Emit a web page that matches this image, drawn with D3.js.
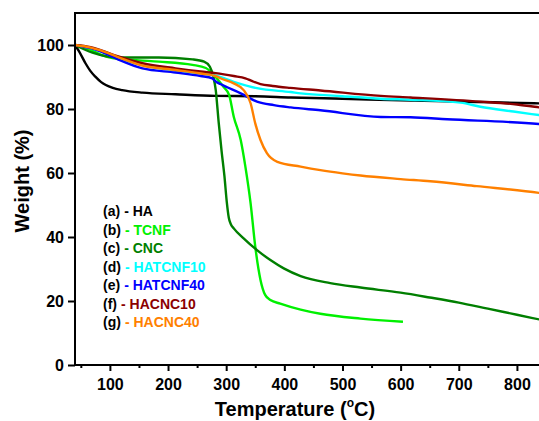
<!DOCTYPE html>
<html>
<head>
<meta charset="utf-8">
<script src="https://cdn.jsdelivr.net/npm/d3@7"></script>
<style>
  html, body { margin: 0; padding: 0; background: #fff; }
  svg { display: block; }
  text { font-family: "Liberation Sans", Arial, sans-serif; font-weight: bold; }
</style>
</head>
<body>
<svg id="chart" width="539" height="421"></svg>
<script>
// Thermogravimetric curves: [temperature (°C), weight (%)]
const HA = [[40,100],[47,98],[58,94.3],[66,92],[75,90.1],[85,88.4],[93,87.5],[105,86.6],[121,85.9],[156,85.1],[213,84.6],[282,84.1],[350,84.0],[411,83.6],[500,83.2],[600,82.7],[700,82.3],[760,82.1],[850,81.7]];
const TCNF = [[40,100],[67,98.5],[84,97],[113,95.7],[150,95.2],[184,94.8],[242,93.8],[265,92.8],[279,90.6],[295,87],[305,84.4],[313,77.6],[325,70.3],[333,62],[342,50.5],[350,37],[359,26.6],[367,21.9],[376,20.3],[393,19.2],[428,17.3],[462,16.0],[531,14.5],[604,13.5]];
const CNC = [[40,100],[70,97.6],[115,96.1],[184,96.1],[242,95.5],[262,94.8],[272,93.2],[278,90],[282,86],[287,76],[292,67],[297,59],[301,51],[304.5,46],[308,44],[313,42.7],[330,39.6],[353,35.9],[376,32.8],[399,30.2],[428,27.8],[479,25.6],[531,24.2],[600,22.6],[650,21.1],[700,19.5],[750,17.6],[800,15.7],[850,13.8]];
const HATCNF10 = [[40,100],[67,99],[84,98],[113,95.9],[156,93.7],[213,92.0],[256,91.1],[282,90.4],[313,88.5],[353,86.5],[411,85.3],[428,84.9],[500,84],[566,83.2],[617,82.9],[703,82.0],[737,80.7],[794,79.2],[838,78.1],[850,77.8]];
const HATCNF40 = [[40,100],[67,99],[84,98],[113,95.6],[156,92.7],[213,91.4],[256,90.3],[276,89.6],[282,88.6],[290,87.8],[325,84.9],[353,82.3],[382,81.2],[411,80.5],[462,79.6],[566,77.5],[617,77.4],[680,76.8],[838,75.3],[850,75.1]];
const HACNC10 = [[40,100],[67,99.3],[84,98.4],[113,96.5],[156,94.3],[213,92.7],[256,91.7],[282,91.2],[313,90.3],[333,89.6],[345,88.7],[359,87.8],[380,87.2],[410,86.6],[462,85.8],[566,84.1],[617,83.6],[737,82.3],[800,81.4],[838,80.5],[850,80.2]];
const HACNC40 = [[40,100],[67,99.2],[84,98.3],[113,96.3],[156,93.6],[213,92.2],[256,91.1],[282,90.3],[290,89.6],[313,88],[330,85.9],[342,81.8],[350,75.5],[359,70.3],[370,66.2],[388,63.5],[428,62],[462,60.9],[500,59.9],[531,59.2],[600,58.1],[651,57.4],[731,55.9],[838,53.8],[850,53.5]];

const seriesData = [HA, TCNF, CNC, HATCNF10, HATCNF40, HACNC10, HACNC40];
const seriesNames = ["HA", "TCNF", "CNC", "HATCNF10", "HATCNF40", "HACNC10", "HACNC40"];
const seriesTags = ["(a)", "(b)", "(c)", "(d)", "(e)", "(f)", "(g)"];
const seriesColors = ["#000000", "#00f000", "#007f00", "#00ffff", "#0000ff", "#8b0000", "#ff8000"];

const xTicks = [100, 200, 300, 400, 500, 600, 700, 800];
const xMinorTicks = [50, 150, 250, 350, 450, 550, 650, 750, 850];
const yTicks = [0, 20, 40, 60, 80, 100];

const svg = d3.select("#chart");
const plotLeft = 75, plotRight = 546, plotTop = 13, plotBottom = 365;

const x = d3.scaleLinear().domain([40, 850]).range([plotLeft, plotRight]);
const y = d3.scaleLinear().domain([0, 110]).range([plotBottom, plotTop]);

// Curves
const line = d3.line()
  .x(d => x(d[0]))
  .y(d => y(d[1]))
  .curve(d3.curveMonotoneX);

svg.append("g")
  .selectAll("path")
  .data(seriesData)
  .join("path")
  .attr("d", line)
  .attr("fill", "none")
  .attr("stroke", (d, i) => seriesColors[i])
  .attr("stroke-width", 2.4)
  .attr("stroke-linejoin", "round");

// Frame
svg.append("rect")
  .attr("x", plotLeft).attr("y", plotTop)
  .attr("width", plotRight - plotLeft).attr("height", plotBottom - plotTop)
  .attr("fill", "none").attr("stroke", "#000").attr("stroke-width", 2);

// X axis
const xAxis = svg.append("g")
  .attr("transform", `translate(0,${plotBottom})`)
  .call(d3.axisBottom(x).tickValues(xTicks).tickSize(6).tickSizeOuter(0).tickPadding(8));
svg.append("g")
  .attr("transform", `translate(0,${plotBottom})`)
  .call(d3.axisBottom(x).tickValues(xMinorTicks).tickSize(3).tickSizeOuter(0).tickFormat(""))
  .call(g => g.select(".domain").remove())
  .selectAll("line").attr("stroke-width", 2);

// Y axis
const yAxis = svg.append("g")
  .attr("transform", `translate(${plotLeft},0)`)
  .call(d3.axisLeft(y).tickValues(yTicks).tickSize(7).tickSizeOuter(0).tickPadding(4));

[xAxis, yAxis].forEach(g => {
  g.select(".domain").remove();
  g.selectAll("line").attr("stroke-width", 2);
  g.selectAll("text")
    .attr("font-size", 16)
    .attr("font-weight", "bold")
    .attr("font-family", "'Liberation Sans', Arial, sans-serif")
    .attr("fill", "#000");
});

// Axis titles
const xTitle = svg.append("text")
  .attr("x", 295).attr("y", 416)
  .attr("text-anchor", "middle")
  .attr("font-size", 20);
xTitle.append("tspan").text("Temperature (");
xTitle.append("tspan").attr("font-size", 12).attr("dy", -9).text("o");
xTitle.append("tspan").attr("dy", 9).text("C)");

svg.append("text")
  .attr("transform", "translate(29,181) rotate(-90)")
  .attr("text-anchor", "middle")
  .attr("font-size", 20)
  .text("Weight (%)");

// Legend
const legendRows = svg.append("g");
seriesNames.forEach((name, i) => {
  const by = 216 + i * 18.5;
  const tag = legendRows.append("text")
    .attr("x", 103).attr("y", by)
    .attr("font-size", 14)
    .attr("fill", "#000")
    .text(seriesTags[i]);
  const w = tag.node().getComputedTextLength();
  legendRows.append("text")
    .attr("x", 103 + w + 4).attr("y", by)
    .attr("font-size", 14)
    .attr("fill", seriesColors[i])
    .text("- " + name);
});
</script>
</body>
</html>
